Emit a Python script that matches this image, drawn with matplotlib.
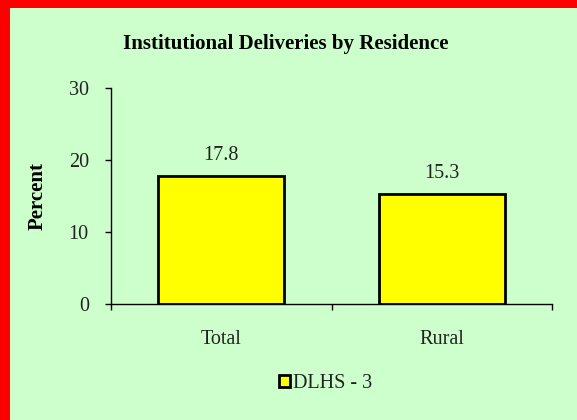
import matplotlib
matplotlib.use("Agg")
from matplotlib import pyplot as plt
from matplotlib.patches import Rectangle, Patch

categories = ["Total", "Rural"]
values = [17.8, 15.3]
series_name = "DLHS - 3"
y_ticks = [0, 10, 20, 30]

plt.rcParams['font.family'] = ['Liberation Serif', 'DejaVu Serif']

W, H = 577, 420
fig = plt.figure(figsize=(W / 100, H / 100), dpi=100, facecolor='#CCFFCC')

# red frame on the left and top
fig.patches.append(Rectangle((0, 0), 10 / W, 1, transform=fig.transFigure,
                             facecolor='red', edgecolor='none', zorder=0))
fig.patches.append(Rectangle((0, 1 - 8 / H), 1, 8 / H, transform=fig.transFigure,
                             facecolor='red', edgecolor='none', zorder=0))

ax = fig.add_axes([111 / W, (H - 304) / H, (552 - 111) / W, (304 - 88) / H])
ax.set_facecolor('#CCFFCC')

xs = range(len(categories))
bars = ax.bar(xs, values, width=0.57, color='yellow', edgecolor='black', linewidth=2)
for b, v in zip(bars, values):
    ax.text(b.get_x() + b.get_width() / 2, v + 1.5, f"{v:.1f}",
            ha='center', va='bottom', fontsize=14.5, color='#222222')

ax.set_xlim(-0.5, 1.5)
ax.set_ylim(0, 30)
ax.set_yticks(y_ticks)
ax.set_xticks(list(xs))
ax.set_xticklabels(categories, fontsize=14.5, color='#222222')
ax.set_xticks([-0.5, 0.5, 1.5], minor=True)
ax.tick_params(axis='x', which='major', length=0, pad=19)
ax.tick_params(axis='x', which='minor', length=4, direction='out', width=1)
ax.tick_params(axis='y', length=4, width=1, labelsize=14.5, pad=12, labelcolor='#222222')

for s in ['top', 'right']:
    ax.spines[s].set_visible(False)
for s in ['left', 'bottom']:
    ax.spines[s].set_linewidth(1)

ax.set_ylabel("Percent", fontsize=15, fontweight='bold', labelpad=15)
fig.text(286 / W, 1 - 44 / H, "Institutional Deliveries by Residence",
         ha='center', va='center', fontsize=15, fontweight='bold')

handle = Patch(facecolor='yellow', edgecolor='black', linewidth=2)
fig.legend([handle], [series_name], loc='center', bbox_to_anchor=(326 / W, 1 - 384 / H),
           frameon=False, fontsize=14.5, handlelength=0.55, handleheight=0.55,
           handletextpad=0.15, labelcolor='#222222')

fig.savefig("out.png", dpi=100, facecolor=fig.get_facecolor())
